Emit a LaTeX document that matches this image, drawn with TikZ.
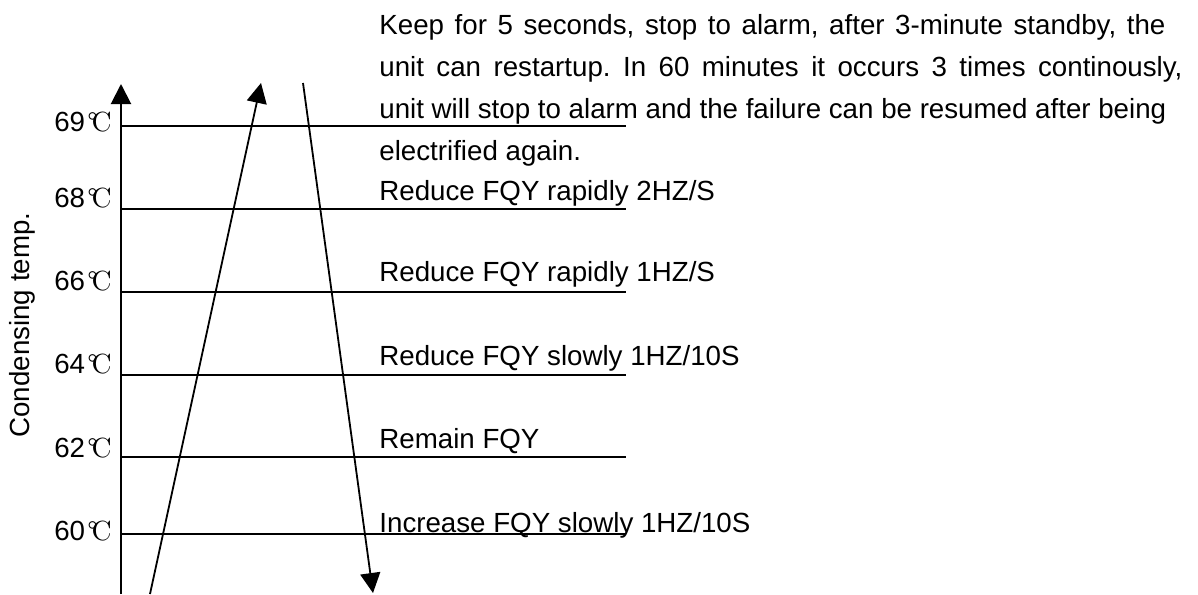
\documentclass[tikz,border=0pt]{standalone}
\usepackage{fontspec}
\setmainfont{Liberation Sans}
\newfontfamily\degfont{lmroman10-regular}[Extension=.otf]
\usetikzlibrary{arrows.meta, positioning}
\newcommand{\degc}{{\degfont\kern0.08em°\kern-0.22em C}}
\frenchspacing

\begin{document}
\begin{tikzpicture}[x=0.5pt, y=-0.5pt,
    every node/.style={font=\fontsize{13.85}{21}\selectfont, inner sep=0pt},
    levelline/.style={line width=1pt},
    tick/.style={anchor=base east},
    action/.style={anchor=base west},
    bigtip/.style={-{Triangle[width=10pt,length=10pt]}},
    trend/.style={line width=0.9pt, bigtip}]
  \useasboundingbox (0,0) rectangle (1198,594);

  % Axis
  \coordinate (axbot) at (121,594);
  \coordinate (axtop) at (121,84);
  \draw[line width=1pt, bigtip] (axbot) -- (axtop);
  \node[rotate=90] (ylabel) at (22,325) {Condensing temp.};

  % Level 69
  \coordinate (a69) at (121,125.7);
  \coordinate (b69) at (626,125.7);
  \draw[levelline] (a69) -- (b69);
  \node[tick] (t69) at (112,131) {69\degc};

  % Level 68
  \coordinate (a68) at (121,209);
  \coordinate (b68) at (626,209);
  \draw[levelline] (a68) -- (b68);
  \node[tick] (t68) at (112,207.7) {68\degc};

  % Level 66
  \coordinate (a66) at (121,292);
  \coordinate (b66) at (626,292);
  \draw[levelline] (a66) -- (b66);
  \node[tick] (t66) at (112,290) {66\degc};

  % Level 64
  \coordinate (a64) at (121,375);
  \coordinate (b64) at (626,375);
  \draw[levelline] (a64) -- (b64);
  \node[tick] (t64) at (112,373) {64\degc};

  % Level 62
  \coordinate (a62) at (121,457);
  \coordinate (b62) at (626,457);
  \draw[levelline] (a62) -- (b62);
  \node[tick] (t62) at (112,457) {62\degc};

  % Level 60
  \coordinate (a60) at (121,534);
  \coordinate (b60) at (626,534);
  \draw[levelline] (a60) -- (b60);
  \node[tick] (t60) at (112,540) {60\degc};

  % Alarm note above 69
  \node[action] (note1) at (379,34) {\makebox[393pt][s]{Keep for 5 seconds, stop to alarm, after 3-minute standby, the}};
  \node[action] (note2) at (379,76) {\makebox[401.5pt][s]{unit can restartup. In 60 minutes it occurs 3 times continously,}};
  \node[action] (note3) at (379,118) {unit will stop to alarm and the failure can be resumed after being};
  \node[action] (note4) at (379,160) {electrified again.};

  % Actions per band
  \node[action] (r68) at (379,200) {Reduce FQY rapidly 2HZ/S};
  \node[action] (r66) at (379,281.7) {Reduce FQY rapidly 1HZ/S};
  \node[action] (r64) at (379,365) {Reduce FQY slowly 1HZ/10S};
  \node[action] (r62) at (379,448) {Remain FQY};
  \node[action] (r60) at (379,532) {Increase FQY slowly 1HZ/10S};

  % Rising and falling trend
  \coordinate (upstart) at (150,594);
  \coordinate (upend) at (261,83);
  \draw[trend] (upstart) -- (upend);
  \coordinate (dnstart) at (303,83);
  \coordinate (dnend) at (373,593);
  \draw[trend] (dnstart) -- (dnend);
\end{tikzpicture}
\end{document}
